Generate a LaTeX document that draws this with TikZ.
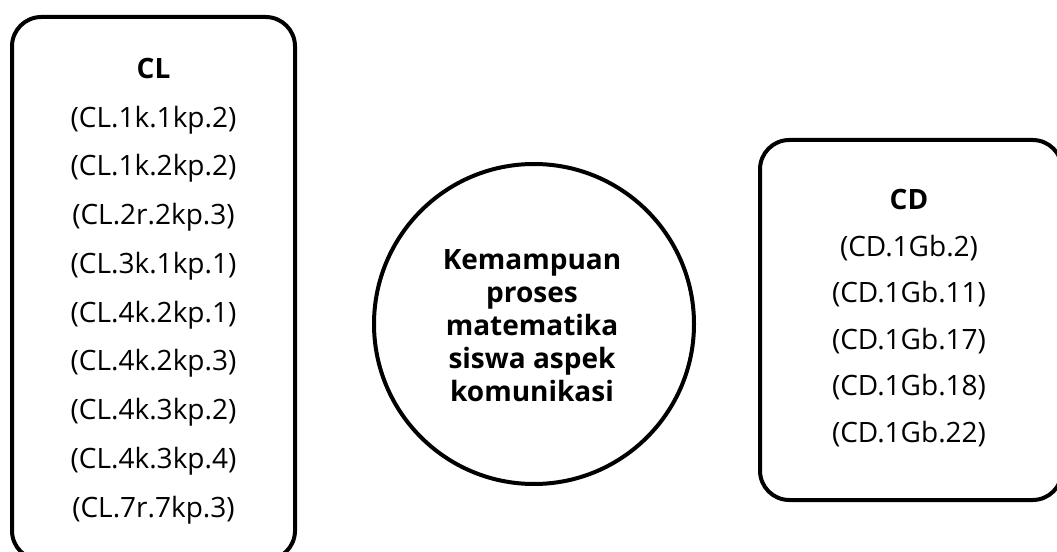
\documentclass[tikz,border=0pt]{standalone}
\usepackage{fontspec}
\setmainfont{Open Sans}
\begin{document}
\begin{tikzpicture}[x=0.75pt,y=-0.75pt,
  frame/.style={draw, line width=3pt, rounded corners=22pt, inner sep=0pt},
  ring/.style={draw, circle, line width=3pt, minimum size=240pt, inner sep=0pt},
  listtext/.style={align=center, inner sep=0pt},
]
\useasboundingbox (0,0) rectangle (1057,552);
\clip (0,0) rectangle (1057,552);
% left box
\node[frame, minimum width=212.25pt, minimum height=407.25pt] (cl) at (153.5,288.5) {};
\node[listtext, font=\fontsize{21}{36.56}\selectfont] (cltext) at (153.5,291)
  {\textbf{CL}\\(CL.1k.1kp.2)\\(CL.1k.2kp.2)\\(CL.2r.2kp.3)\\(CL.3k.1kp.1)\\(CL.4k.2kp.1)\\(CL.4k.2kp.3)\\(CL.4k.3kp.2)\\(CL.4k.3kp.4)\\(CL.7r.7kp.3)};
% circle
\node[ring] (kp) at (534,324) {};
\node[listtext, font=\bfseries\fontsize{21}{24.75}\selectfont] (kptext) at (532,326)
  {Kemampuan\\proses\\matematika\\siswa aspek\\komunikasi};
% right box
\node[frame, minimum width=226.5pt, minimum height=270pt] (cd) at (911,320) {};
\node[listtext, font=\fontsize{21}{34.9}\selectfont] (cdtext) at (909,318)
  {\textbf{CD}\\(CD.1Gb.2)\\(CD.1Gb.11)\\(CD.1Gb.17)\\(CD.1Gb.18)\\(CD.1Gb.22)};
\end{tikzpicture}
\end{document}
